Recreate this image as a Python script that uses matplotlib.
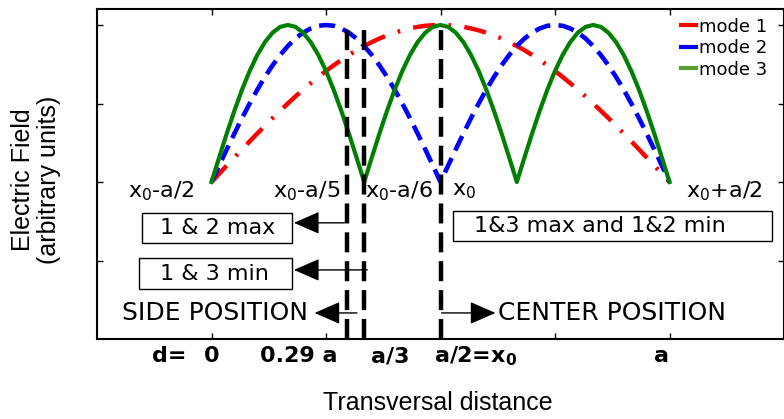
import matplotlib
matplotlib.use("Agg")
import matplotlib.pyplot as plt
from matplotlib.lines import Line2D
from matplotlib.patches import Rectangle

# transverse position across the guide (a = 4 units), 61 samples
x = [k / 15 for k in range(61)]

mode1 = [0.000, 0.052, 0.105, 0.156, 0.208, 0.259, 0.309, 0.358, 0.407, 0.454,
         0.500, 0.545, 0.588, 0.629, 0.669, 0.707, 0.743, 0.777, 0.809, 0.839,
         0.866, 0.891, 0.914, 0.934, 0.951, 0.966, 0.978, 0.988, 0.995, 0.999,
         1.000, 0.999, 0.995, 0.988, 0.978, 0.966, 0.951, 0.934, 0.914, 0.891,
         0.866, 0.839, 0.809, 0.777, 0.743, 0.707, 0.669, 0.629, 0.588, 0.545,
         0.500, 0.454, 0.407, 0.358, 0.309, 0.259, 0.208, 0.156, 0.105, 0.052,
         0.000]
mode2 = [0.000, 0.105, 0.208, 0.309, 0.407, 0.500, 0.588, 0.669, 0.743, 0.809,
         0.866, 0.914, 0.951, 0.978, 0.995, 1.000, 0.995, 0.978, 0.951, 0.914,
         0.866, 0.809, 0.743, 0.669, 0.588, 0.500, 0.407, 0.309, 0.208, 0.105,
         0.000, 0.105, 0.208, 0.309, 0.407, 0.500, 0.588, 0.669, 0.743, 0.809,
         0.866, 0.914, 0.951, 0.978, 0.995, 1.000, 0.995, 0.978, 0.951, 0.914,
         0.866, 0.809, 0.743, 0.669, 0.588, 0.500, 0.407, 0.309, 0.208, 0.105,
         0.000]
mode3 = [0.000, 0.156, 0.309, 0.454, 0.588, 0.707, 0.809, 0.891, 0.951, 0.988,
         1.000, 0.988, 0.951, 0.891, 0.809, 0.707, 0.588, 0.454, 0.309, 0.156,
         0.000, 0.156, 0.309, 0.454, 0.588, 0.707, 0.809, 0.891, 0.951, 0.988,
         1.000, 0.988, 0.951, 0.891, 0.809, 0.707, 0.588, 0.454, 0.309, 0.156,
         0.000, 0.156, 0.309, 0.454, 0.588, 0.707, 0.809, 0.891, 0.951, 0.988,
         1.000, 0.988, 0.951, 0.891, 0.809, 0.707, 0.588, 0.454, 0.309, 0.156,
         0.000]

# detector positions: x0-a/5, x0-a/6, x0
probe_x = [1.18, 4 / 3, 2.0]

edge_labels = [r"x$_0$-a/2", r"x$_0$-a/5", r"x$_0$-a/6", r"x$_0$", r"x$_0$+a/2"]
edge_x = [-0.44, 0.83, 1.64, 2.21, 4.48]

d_labels = ["d=", "0", "0.29 a", "a/3", r"a/2=x$_\mathbf{0}$", "a"]
d_x = [-0.37, 0.0, 0.76, 1.56, 2.31, 3.93]

fig = plt.figure(figsize=(7.84, 4.19), dpi=100)
ax = fig.add_axes([97 / 784, 80 / 419, 687 / 784, 329.7 / 419])

ax.plot(x, mode1, color="red", lw=3.2, dashes=(5, 3, 0.6, 3), zorder=2)
ax.plot(x, mode2, color="blue", lw=3.3, dashes=(3.5, 1.8), zorder=2)
ax.plot(x, mode3, color="green", lw=3, zorder=2)

for px in probe_x:
    ax.plot([px, px], [-1, 1], color="black", lw=3.2, dashes=(4.5, 2), zorder=3)

ax.set_xlim(-1, 5)
ax.set_ylim(-1, 1.1)
ax.set_xticks([0, 1, 2, 3, 4])
ax.set_yticks([-0.5, 0, 0.5, 1.0])
ax.tick_params(direction="in", length=4.5, width=1, top=True, right=True,
               labelbottom=False, labelleft=False)
for s in ax.spines.values():
    s.set_linewidth(1.5)

for lab, lx in zip(edge_labels, edge_x):
    ax.text(lx, -0.06, lab, fontsize=16, ha="center", va="center")

for lab, lx in zip(d_labels, d_x):
    ax.text(lx, -1.11, lab, fontsize=16, fontweight="bold",
            ha="center", va="center", clip_on=False)

# boxed notes
boxes = [((-0.607, -0.389), 1.31, 0.192, "1 & 2 max", 0.05, -0.293),
         ((-0.633, -0.682), 1.336, 0.198, "1 & 3 min", 0.03, -0.583),
         ((2.109, -0.376), 2.786, 0.191, "1&3 max and 1&2 min", 3.39, -0.28)]
for xy, w, h, txt, tx, ty in boxes:
    ax.add_patch(Rectangle(xy, w, h, fill=False, lw=1, ec="black", zorder=4))
    ax.text(tx, ty, txt, fontsize=16, ha="center", va="center")

arr = dict(arrowstyle="-|>,head_length=0.8,head_width=0.35",
           mutation_scale=20, lw=1, color="black", shrinkA=0, shrinkB=0)
ax.annotate("", xy=(0.72, -0.26), xytext=(1.16, -0.26), arrowprops=arr)
ax.annotate("", xy=(0.72, -0.56), xytext=(1.36, -0.56), arrowprops=arr)
ax.annotate("", xy=(0.90, -0.834), xytext=(1.27, -0.834), arrowprops=arr)
ax.annotate("", xy=(2.48, -0.834), xytext=(2.01, -0.834), arrowprops=arr)

ax.text(0.84, -0.834, "SIDE POSITION", fontsize=18, ha="right", va="center")
ax.text(2.50, -0.834, "CENTER POSITION", fontsize=18, ha="left", va="center")

handles = [Line2D([], [], color="red", lw=3),
           Line2D([], [], color="blue", lw=3),
           Line2D([], [], color="#5aa02c", lw=3)]
ax.legend(handles, ["mode 1", "mode 2", "mode 3"], loc="upper right",
          bbox_to_anchor=(0.975, 0.975), frameon=False, fontsize=13,
          handlelength=0.8, handletextpad=0.15, labelspacing=0.2,
          borderpad=0, borderaxespad=0)

fig.text(438 / 784, 1 - 403 / 419, "Transversal distance", fontsize=18,
         family="Liberation Sans", ha="center", va="center")
fig.text(36 / 784, 1 - 180 / 419, "Electric Field\n(arbitrary units)",
         fontsize=18, family="Liberation Sans", rotation=90,
         ha="center", va="center", multialignment="center",
         linespacing=1.1)

fig.savefig("out.png", dpi=100)
